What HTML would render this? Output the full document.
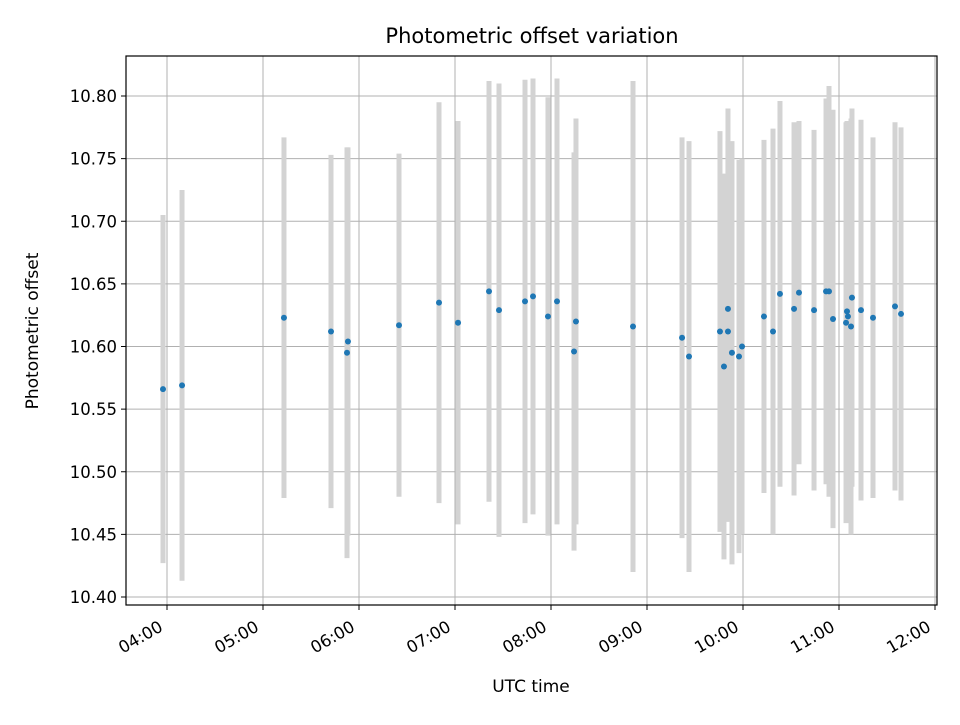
<!DOCTYPE html>
<html><head><meta charset="utf-8"><style>
html,body{margin:0;padding:0;background:#fff;}
svg text{font-family:"DejaVu Sans","Liberation Sans",sans-serif;fill:#000;}
</style></head><body>
<svg id="chart" width="960" height="720" xmlns="http://www.w3.org/2000/svg">
<rect width="960" height="720" fill="#fff"/>
<text x="532" y="43" font-size="21" text-anchor="middle">Photometric offset variation</text>
<text x="531" y="692" font-size="17" text-anchor="middle">UTC time</text>
<text transform="translate(38,331) rotate(-90)" font-size="17" text-anchor="middle">Photometric offset</text>
<g id="grid"></g>
<g id="errs"></g>
<g id="pts"></g>
<g id="axes"></g>
</svg>
<script>
// minutes since midnight UTC
const times = [237.5,249.4,313.1,342.5,353.1,352.5,385,410,421.9,441.25,447.5,463.75,468.75,478.1,483.75,494.4,495.6,531.25,561.9,566.25,585.6,588.1,590.6,590.6,593.1,597.5,599.4,613.1,618.75,623.1,631.9,635,644.4,651.9,653.75,656.25,665,665.6,664.4,667.5,668.1,673.75,681.25,695,698.75];
const offsets = [10.566,10.569,10.623,10.612,10.604,10.595,10.617,10.635,10.619,10.644,10.629,10.636,10.640,10.624,10.636,10.596,10.620,10.616,10.607,10.592,10.612,10.584,10.630,10.612,10.595,10.592,10.600,10.624,10.612,10.642,10.630,10.643,10.629,10.644,10.644,10.622,10.628,10.624,10.619,10.616,10.639,10.629,10.623,10.632,10.626];
const errors = [0.139,0.156,0.144,0.141,0.155,0.164,0.137,0.160,0.161,0.168,0.181,0.177,0.174,0.175,0.178,0.159,0.162,0.196,0.160,0.172,0.160,0.154,0.160,0.152,0.169,0.157,0.150,0.141,0.162,0.154,0.149,0.137,0.144,0.154,0.164,0.167,0.152,0.138,0.160,0.166,0.151,0.152,0.144,0.147,0.149];
const xTicks = [240,300,360,420,480,540,600,660,720];
const xTickLabels = ["04:00","05:00","06:00","07:00","08:00","09:00","10:00","11:00","12:00"];
const yTicks = [10.40,10.45,10.50,10.55,10.60,10.65,10.70,10.75,10.80];
const yTickLabels = ["10.40","10.45","10.50","10.55","10.60","10.65","10.70","10.75","10.80"];

const L=126,R=937,T=56,B=605;
const xs = m => 167 + (m-240)*(935-167)/480;
const ys = v => 96 + (10.80-v)*(597-96)/0.40;
const NS="http://www.w3.org/2000/svg";
function mk(tag, attrs, parent){const e=document.createElementNS(NS,tag);for(const k in attrs)e.setAttribute(k,attrs[k]);parent.appendChild(e);return e;}
const grid=document.getElementById('grid'), errs=document.getElementById('errs'), pts=document.getElementById('pts'), axes=document.getElementById('axes');

xTicks.forEach((t,i)=>{
  const x=xs(t);
  const g=mk('line',{x1:x,x2:x,y1:T,y2:B,stroke:'#b0b0b0','stroke-width':1},grid);
  
  
  const tk=mk('line',{x1:x,x2:x,y1:B,y2:B+5,stroke:'#000','stroke-width':1},axes);
  
  
  const ax=x-3, ay=B+25;
  const tx=mk('text',{x:ax,y:ay,'font-size':16.5,'text-anchor':'end',transform:`rotate(-30 ${ax} ${ay})`},axes);
  tx.textContent=xTickLabels[i];
  
  
});
yTicks.forEach((t,i)=>{
  const y=ys(t);
  const g=mk('line',{x1:L,x2:R,y1:y,y2:y,stroke:'#b0b0b0','stroke-width':1},grid);
  
  
  const tk=mk('line',{x1:L-5,x2:L,y1:y,y2:y,stroke:'#000','stroke-width':1},axes);
  
  
  const tx=mk('text',{x:L-9,y:y+6,'font-size':16.5,'text-anchor':'end'},axes);
  tx.textContent=yTickLabels[i];
  
  
});
const frame=mk('rect',{x:L,y:T,width:R-L,height:B-T,fill:'none',stroke:'#000','stroke-width':1.2},axes);



times.forEach((t,i)=>{
  const x=xs(t);
  const e=mk('line',{x1:x,x2:x,y1:ys(offsets[i]+errors[i]),y2:ys(offsets[i]-errors[i]),stroke:'#d3d3d3','stroke-width':5},errs);
  
  
});
times.forEach((t,i)=>{
  const c=mk('circle',{cx:xs(t),cy:ys(offsets[i]),r:3,fill:'#1f77b4'},pts);
  
  
});
</script>
</body></html>
